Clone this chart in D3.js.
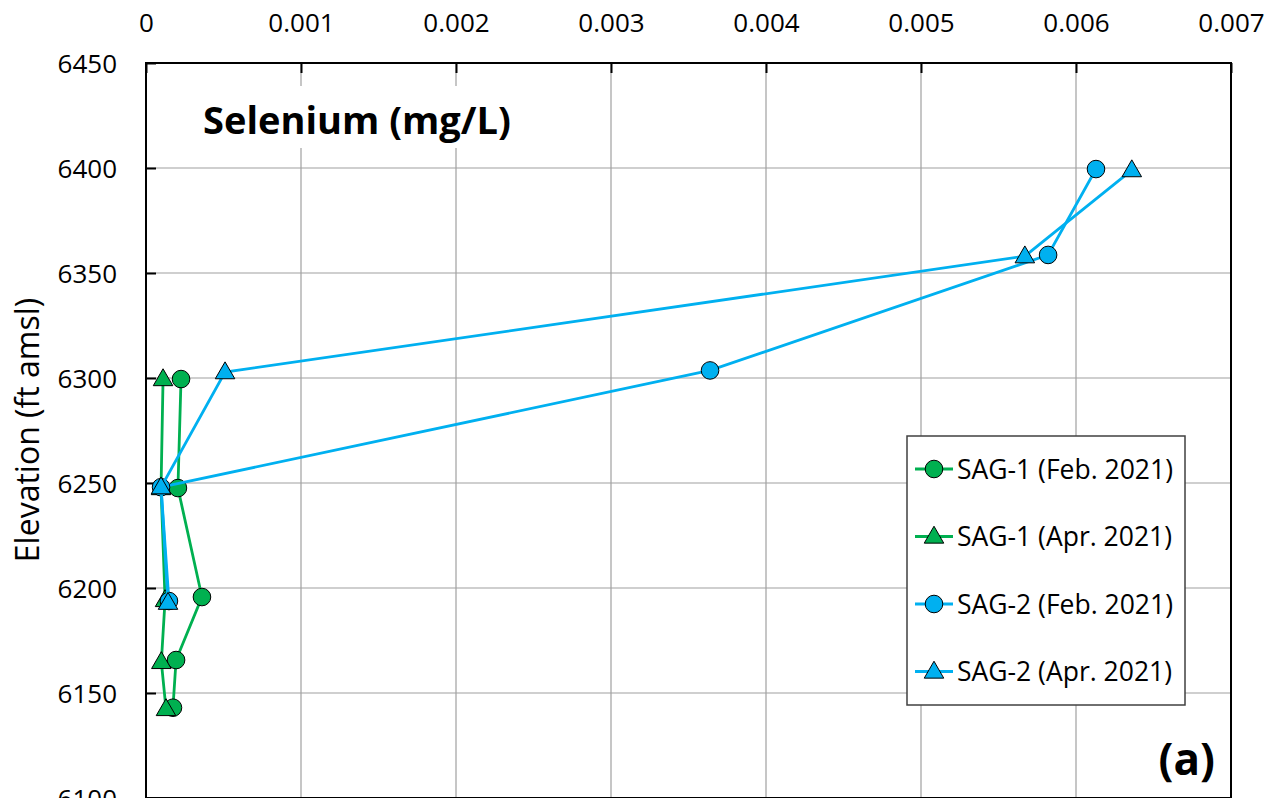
<!DOCTYPE html>
<html>
<head>
<meta charset="utf-8">
<script src="https://cdn.jsdelivr.net/npm/d3@7"></script>
<style>
  body { margin: 0; background: #fff; }
  svg { display: block; font-family: "Open Sans", "Lato", sans-serif; }
</style>
</head>
<body>
<svg id="chart" width="1285" height="798"></svg>
<script>
// ---- Data ----
const xTicks = [0, 0.001, 0.002, 0.003, 0.004, 0.005, 0.006, 0.007];
const yTicks = [6100, 6150, 6200, 6250, 6300, 6350, 6400, 6450];

const sag1FebConc = [0.000226, 0.000206, 0.000361, 0.000194, 0.000174];
const sag1FebElev = [6299.5, 6247.6, 6195.7, 6165.7, 6143.0];

const sag1AprConc = [0.000110, 0.000097, 0.000123, 0.000099, 0.000129];
const sag1AprElev = [6299.5, 6247.6, 6194.3, 6164.8, 6142.4];

const sag2FebConc = [0.006129, 0.005820, 0.003639, 0.000097, 0.000148];
const sag2FebElev = [6399.5, 6358.6, 6303.6, 6248.0, 6193.8];

const sag2AprConc = [0.006360, 0.005670, 0.000510, 0.000097, 0.000142];
const sag2AprElev = [6399.0, 6358.0, 6302.8, 6248.0, 6193.0];

const seriesNames = ["SAG-1 (Feb. 2021)", "SAG-1 (Apr. 2021)", "SAG-2 (Feb. 2021)", "SAG-2 (Apr. 2021)"];

const series = [
  { name: seriesNames[0], x: sag1FebConc, y: sag1FebElev, color: "#00B050", shape: "circle" },
  { name: seriesNames[1], x: sag1AprConc, y: sag1AprElev, color: "#00B050", shape: "triangle" },
  { name: seriesNames[2], x: sag2FebConc, y: sag2FebElev, color: "#00B0F0", shape: "circle" },
  { name: seriesNames[3], x: sag2AprConc, y: sag2AprElev, color: "#00B0F0", shape: "triangle" }
];

// ---- Layout ----
const svg = d3.select("#chart");
const L = 146, R = 1231, T = 63, B = 798;

const x = d3.scaleLinear().domain([0, 0.007]).range([L, R]);
const y = d3.scaleLinear().domain([6100, 6450]).range([B, T]);

// Gridlines
const grid = svg.append("g");
grid.selectAll("line.v").data(xTicks.slice(1, -1)).enter().append("line")
  .attr("x1", d => x(d)).attr("x2", d => x(d))
  .attr("y1", T).attr("y2", B)
  .attr("stroke", "#A0A0A0").attr("stroke-width", 1.2);
grid.selectAll("line.h").data(yTicks.slice(1, -1)).enter().append("line")
  .attr("x1", L).attr("x2", R)
  .attr("y1", d => y(d)).attr("y2", d => y(d))
  .attr("stroke", "#A0A0A0").attr("stroke-width", 1.2);

// Title with white background
const title = svg.append("g");
title.append("rect").attr("x", 190).attr("y", 86).attr("width", 338).attr("height", 62).attr("fill", "#fff");
title.append("text").attr("x", 203).attr("y", 134)
  .attr("font-size", 38).attr("font-weight", "bold").attr("fill", "#000")
  .text("Selenium (mg/L)");

// Axes
const xAxis = d3.axisTop(x).tickValues(xTicks).tickSizeInner(-10).tickSizeOuter(0)
  .tickFormat(d => d === 0 ? "0" : d3.format(".3f")(d)).tickPadding(31);
const yAxis = d3.axisLeft(y).tickValues(yTicks).tickSizeInner(-10).tickSizeOuter(0)
  .tickFormat(d3.format("d")).tickPadding(29);

const gx = svg.append("g").attr("transform", `translate(0,${T})`).call(xAxis);
const gy = svg.append("g").attr("transform", `translate(${L},0)`).call(yAxis);
[gx, gy].forEach(g => {
  g.select(".domain").remove();
  g.selectAll(".tick line").attr("stroke", "#000").attr("stroke-width", 2);
  g.selectAll(".tick text").attr("font-size", 26).attr("fill", "#000")
    .attr("font-family", "'Open Sans', sans-serif");
});
gx.selectAll(".tick text").attr("dy", 0);
gy.selectAll(".tick text").attr("dy", "0.36em");

// Plot border
svg.append("rect").attr("x", L).attr("y", T).attr("width", R - L).attr("height", B - T)
  .attr("fill", "none").attr("stroke", "#000").attr("stroke-width", 2);

// Y label
svg.append("text")
  .attr("transform", `translate(39,430) rotate(-90)`)
  .attr("text-anchor", "middle")
  .attr("font-size", 32).attr("fill", "#000")
  .text("Elevation (ft amsl)");

// Series
const line = d3.line().x(d => x(d[0])).y(d => y(d[1]));
const triSym = d3.symbol().type(d3.symbolTriangle).size(165);

function drawMarker(g, shape, color, cx, cy) {
  if (shape === "circle") {
    g.append("circle").attr("cx", cx).attr("cy", cy).attr("r", 8.8)
      .attr("fill", color).attr("stroke", "#000").attr("stroke-width", 1);
  } else {
    g.append("path").attr("d", triSym())
      .attr("transform", `translate(${cx},${cy + 1})`)
      .attr("fill", color).attr("stroke", "#000").attr("stroke-width", 1);
  }
}

series.forEach(s => {
  const g = svg.append("g");
  const pts = s.x.map((v, i) => [v, s.y[i]]);
  g.append("path").datum(pts).attr("d", line)
    .attr("fill", "none").attr("stroke", s.color).attr("stroke-width", 2.8);
  pts.forEach(p => drawMarker(g, s.shape, s.color, x(p[0]), y(p[1])));
});

// Legend
const lg = svg.append("g");
lg.append("rect").attr("x", 907).attr("y", 436).attr("width", 278).attr("height", 269)
  .attr("fill", "#fff").attr("stroke", "#404040").attr("stroke-width", 1.5);
series.forEach((s, i) => {
  const cy = 469 + i * 67.5;
  lg.append("line").attr("x1", 915).attr("x2", 953).attr("y1", cy).attr("y2", cy)
    .attr("stroke", s.color).attr("stroke-width", 2.8);
  drawMarker(lg, s.shape, s.color, 934, cy);
  lg.append("text").attr("x", 957).attr("y", cy).attr("dy", "0.36em")
    .attr("font-size", 26.5).attr("fill", "#000").text(s.name);
});

// Panel label
svg.append("text").attr("x", 1215).attr("y", 775).attr("text-anchor", "end")
  .attr("font-size", 44).attr("font-weight", "bold").attr("fill", "#000").text("(a)");
</script>
</body>
</html>
